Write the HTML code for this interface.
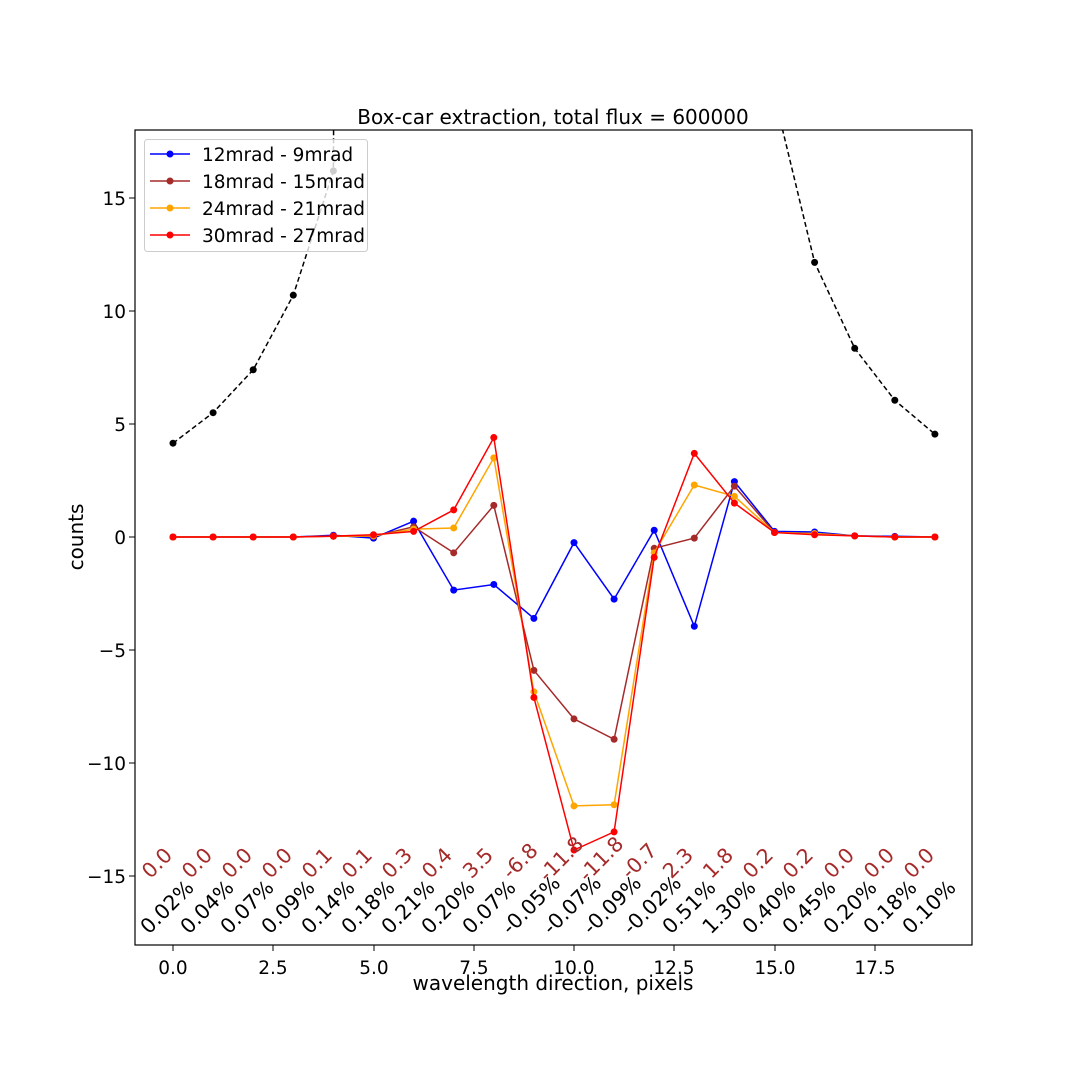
<!DOCTYPE html>
<html><head><meta charset="utf-8"><style>
html,body{margin:0;padding:0;background:#fff}
svg{display:block;font-family:"DejaVu Sans","Liberation Sans",sans-serif}
</style></head><body>
<svg id="s" width="1080" height="1080" viewBox="0 0 1080 1080" xmlns="http://www.w3.org/2000/svg">
<rect width="1080" height="1080" fill="#fff"/>
<defs><clipPath id="c"><rect x="135" y="130" width="837" height="815"/></clipPath></defs>
<g id="plot" clip-path="url(#c)"></g>
<rect x="135" y="130" width="837" height="815" fill="none" stroke="#000" stroke-width="1.2"/>
<text x="553" y="124" font-size="20" text-anchor="middle">Box-car extraction, total flux = 600000</text>
<g font-size="18.5" text-anchor="middle">
<text x="173" y="974">0.0</text><text x="273" y="974">2.5</text><text x="374" y="974">5.0</text><text x="474" y="974">7.5</text><text x="574" y="974">10.0</text><text x="674" y="974">12.5</text><text x="775" y="974">15.0</text><text x="875" y="974">17.5</text>
</g>
<g stroke="#000" stroke-width="1"><line x1="173" y1="945" x2="173" y2="951"/><line x1="273" y1="945" x2="273" y2="951"/><line x1="374" y1="945" x2="374" y2="951"/><line x1="474" y1="945" x2="474" y2="951"/><line x1="574" y1="945" x2="574" y2="951"/><line x1="674" y1="945" x2="674" y2="951"/><line x1="775" y1="945" x2="775" y2="951"/><line x1="875" y1="945" x2="875" y2="951"/>
<line x1="129" y1="198" x2="135" y2="198"/><line x1="129" y1="311" x2="135" y2="311"/><line x1="129" y1="424" x2="135" y2="424"/><line x1="129" y1="537" x2="135" y2="537"/><line x1="129" y1="650" x2="135" y2="650"/><line x1="129" y1="763" x2="135" y2="763"/><line x1="129" y1="876" x2="135" y2="876"/></g>
<g font-size="18.5" text-anchor="end">
<text x="126" y="205">15</text><text x="126" y="318">10</text><text x="126" y="431">5</text><text x="126" y="544">0</text><text x="126" y="657">−5</text><text x="126" y="770">−10</text><text x="126" y="883">−15</text>
</g>
<text x="553" y="990" font-size="20" text-anchor="middle">wavelength direction, pixels</text>
<text transform="translate(83,537) rotate(-90)" font-size="20" text-anchor="middle">counts</text>
<g id="lab" font-size="20.5" text-anchor="middle" dominant-baseline="central">
<g fill="#a52a2a">
<text transform="translate(157,863) rotate(-45)">0.0</text><text transform="translate(197,863) rotate(-45)">0.0</text><text transform="translate(237,863) rotate(-45)">0.0</text><text transform="translate(277,863) rotate(-45)">0.0</text><text transform="translate(317,863) rotate(-45)">0.1</text><text transform="translate(357,863) rotate(-45)">0.1</text><text transform="translate(397,863) rotate(-45)">0.3</text><text transform="translate(437,863) rotate(-45)">0.4</text><text transform="translate(478,863) rotate(-45)">3.5</text><text transform="translate(520,861) rotate(-45)">-6.8</text><text transform="translate(561,859) rotate(-45)">-11.8</text><text transform="translate(601,859) rotate(-45)">-11.8</text><text transform="translate(639,861) rotate(-45)">-0.7</text><text transform="translate(678,863) rotate(-45)">2.3</text><text transform="translate(718,863) rotate(-45)">1.8</text><text transform="translate(758,863) rotate(-45)">0.2</text><text transform="translate(798,863) rotate(-45)">0.2</text><text transform="translate(839,863) rotate(-45)">0.0</text><text transform="translate(879,863) rotate(-45)">0.0</text><text transform="translate(919,863) rotate(-45)">0.0</text>
</g>
<g fill="#000">
<text transform="translate(167,907) rotate(-45)">0.02%</text><text transform="translate(207,907) rotate(-45)">0.04%</text><text transform="translate(247,907) rotate(-45)">0.07%</text><text transform="translate(288,907) rotate(-45)">0.09%</text><text transform="translate(328,907) rotate(-45)">0.14%</text><text transform="translate(368,907) rotate(-45)">0.18%</text><text transform="translate(408,907) rotate(-45)">0.21%</text><text transform="translate(448,907) rotate(-45)">0.20%</text><text transform="translate(489,907) rotate(-45)">0.07%</text><text transform="translate(531,905) rotate(-45)">-0.05%</text><text transform="translate(572,905) rotate(-45)">-0.07%</text><text transform="translate(612,905) rotate(-45)">-0.09%</text><text transform="translate(652,905) rotate(-45)">-0.02%</text><text transform="translate(689,907) rotate(-45)">0.51%</text><text transform="translate(729,907) rotate(-45)">1.30%</text><text transform="translate(769,907) rotate(-45)">0.40%</text><text transform="translate(809,907) rotate(-45)">0.45%</text><text transform="translate(850,907) rotate(-45)">0.20%</text><text transform="translate(890,907) rotate(-45)">0.18%</text><text transform="translate(929,907) rotate(-45)">0.10%</text>
</g></g>
<rect x="144.5" y="139.5" width="223" height="112" rx="3" fill="#fff" fill-opacity="0.8" stroke="#ccc"/>
<g stroke-width="1.5">
<line x1="150" y1="154" x2="190" y2="154" stroke="blue"/><circle cx="170" cy="154" r="3.5" fill="blue"/>
<line x1="150" y1="181" x2="190" y2="181" stroke="brown"/><circle cx="170" cy="181" r="3.5" fill="brown"/>
<line x1="150" y1="208" x2="190" y2="208" stroke="orange"/><circle cx="170" cy="208" r="3.5" fill="orange"/>
<line x1="150" y1="235" x2="190" y2="235" stroke="red"/><circle cx="170" cy="235" r="3.5" fill="red"/>
</g>
<g font-size="18.5"><text x="202" y="161">12mrad - 9mrad</text><text x="202" y="188">18mrad - 15mrad</text><text x="202" y="215">24mrad - 21mrad</text><text x="202" y="242">30mrad - 27mrad</text></g>
</svg>
<script>
var X=function(i){return 173+40.1*i},Y=function(v){return 537-22.6*v};
var S=[
["#000",[4.15,5.5,7.4,10.7,16.2,400,400,400,400,400,400,400,400,400,400,19.5,12.15,8.35,6.05,4.55],"5,3"],
["blue",[0,0,0,0,0.08,-0.05,0.7,-2.35,-2.1,-3.6,-0.25,-2.75,0.3,-3.95,2.45,0.25,0.22,0.05,0.03,0]],
["brown",[0,0,0,0,0.03,0.03,0.45,-0.7,1.4,-5.9,-8.05,-8.95,-0.5,-0.05,2.25,0.2,0.15,0.05,0,0]],
["orange",[0,0,0,0,0.04,0.05,0.35,0.4,3.5,-6.85,-11.9,-11.85,-0.7,2.3,1.8,0.2,0.15,0.05,0,0]],
["red",[0,0,0,0,0.04,0.1,0.25,1.2,4.4,-7.1,-13.85,-13.05,-0.9,3.7,1.5,0.2,0.1,0.05,0,0]]];
var g=document.getElementById('plot'),h='';
S.forEach(function(s){var p=s[1].map(function(v,i){return X(i).toFixed(1)+','+Y(v).toFixed(1)}).join(' ');
h+='<polyline points="'+p+'" fill="none" stroke="'+s[0]+'" stroke-width="1.5"'+(s[2]?' stroke-dasharray="5,3"':'')+'/>';
s[1].forEach(function(v,i){h+='<circle cx="'+X(i)+'" cy="'+Y(v)+'" r="3.5" fill="'+s[0]+'"/>'});});
g.innerHTML=h;
</script>
</body></html>
